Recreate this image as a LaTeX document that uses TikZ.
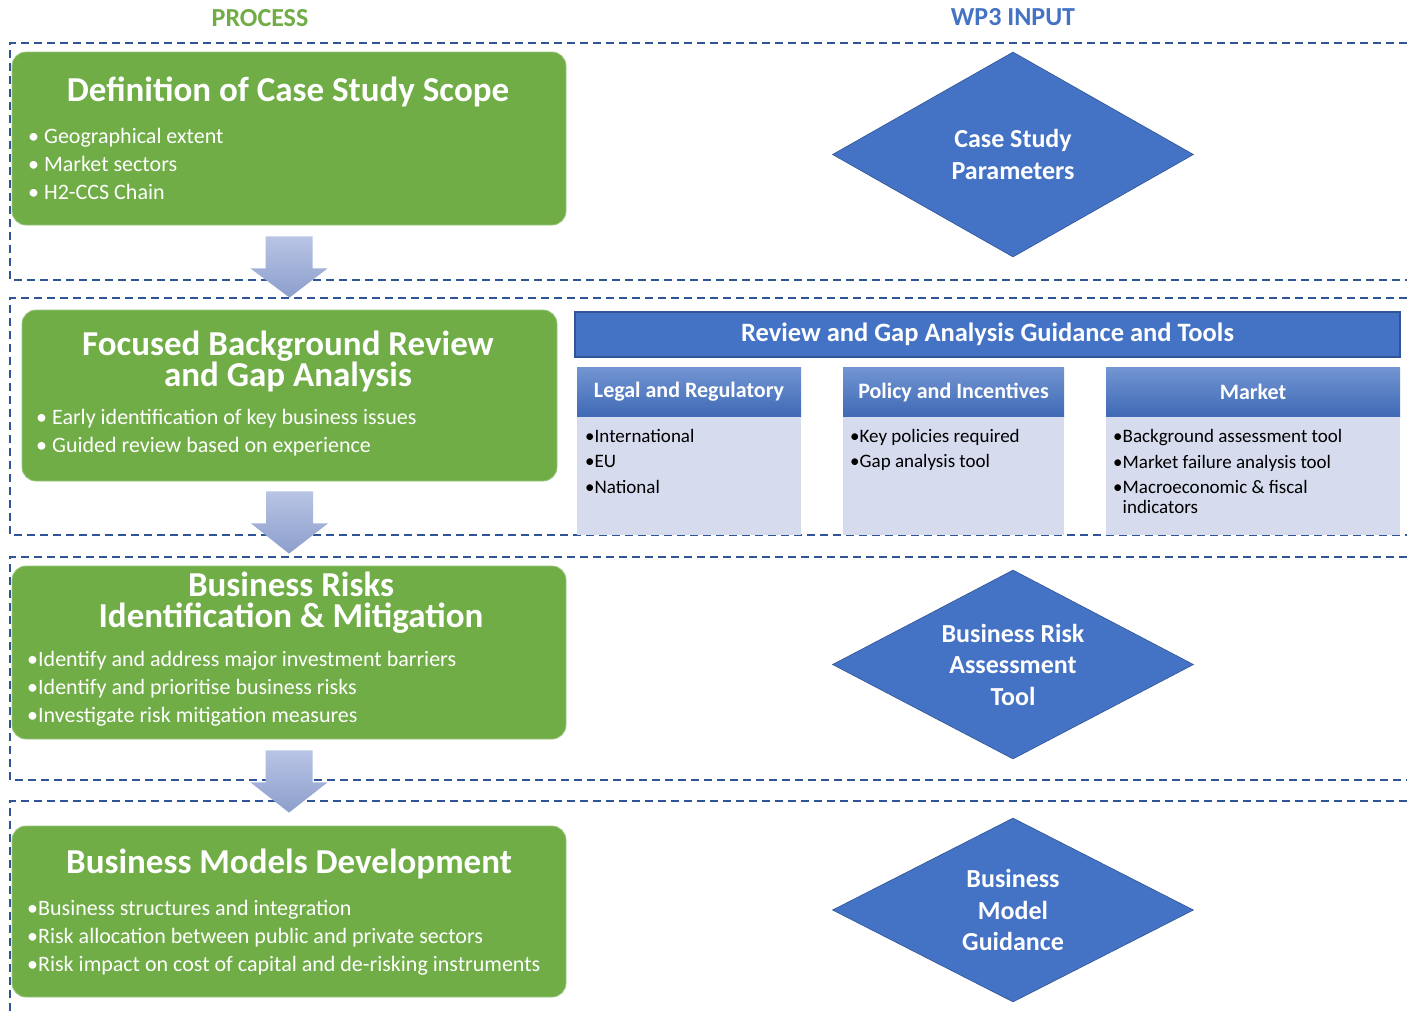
\documentclass[tikz,border=0pt]{standalone}
\usepackage{fontspec}
\setmainfont{Carlito}
\usetikzlibrary{shapes.geometric,calc}

\definecolor{procgreen}{HTML}{70AD47}
\definecolor{inblue}{HTML}{4472C4}
\definecolor{frameblue}{HTML}{2F5597}
\definecolor{cellgrey}{HTML}{D6DBEE}
\definecolor{arrowtop}{HTML}{B8C4E4}
\definecolor{arrowbot}{HTML}{8C9ECC}

\tikzset{
  phase/.style={draw=frameblue, dash pattern=on 8pt off 5pt, line width=1.5pt},
  stagebox/.style={draw=procgreen!70!white, fill=procgreen, rounded corners=14pt, line width=0.8pt, inner sep=0pt},
  stagetitle/.style={text=white, font=\bfseries\fontsize{35}{31}\selectfont, align=center, inner sep=0pt},
  stagelist/.style={text=white, font=\fontsize{22}{28}\selectfont, align=left, anchor=west, inner sep=0pt},
  inputdiamond/.style={diamond, draw=frameblue, fill=inblue, line width=0.6pt, minimum width=361, inner sep=0pt, aspect=1.8,
    text=white, font=\bfseries\fontsize{26}{31.5}\selectfont, align=center},
  gridhead/.style={draw=frameblue, fill=inblue, line width=1.5pt, minimum height=45, inner sep=0pt,
    text=white, font=\bfseries\fontsize{26.5}{30}\selectfont},
  colhead/.style={top color=inblue!75!white, bottom color=inblue!92!black, minimum height=50, inner sep=0pt,
    text=white, font=\bfseries\fontsize{22}{26}\selectfont},
  colbody/.style={fill=cellgrey, minimum height=118, inner sep=0pt},
  collist/.style={font=\fontsize{19}{25.5}\selectfont, align=left, anchor=west, inner sep=0pt},
  flowarrow/.style={top color=arrowtop, bottom color=arrowbot}
}

\begin{document}
\begin{tikzpicture}[x=1pt,y=-1pt]
  \useasboundingbox (0,0) rectangle (1407,1012);
  \clip (0,0) rectangle (1407,1012);

  % column titles
  \node[text=procgreen, font=\bfseries\fontsize{26}{30}\selectfont] (proc) at (260,18) {PROCESS};
  \node[text=inblue, font=\bfseries\fontsize{26}{30}\selectfont] (wp3) at (1013,17) {WP3 INPUT};

  % dashed phase frames
  \draw[phase] (1420,43) -| (10,280) -- (1420,280);
  \draw[phase] (1420,298) -| (10,535) -- (1420,535);
  \draw[phase] (1420,557) -| (10,780) -- (1420,780);
  \draw[phase] (1420,801) -| (10,1020);

  % process boxes
  \node[stagebox, minimum width=554, minimum height=173] (scope) at (289,138.5) {};
  \node[stagetitle] (scopeT) at (288,91.5) {Definition of Case Study Scope};
  \node[stagelist] (scopeL) at (28,163.5) {• Geographical extent\\• Market sectors\\• H2-CCS Chain};

  \node[stagebox, minimum width=535, minimum height=171] (gap) at (289.5,395.5) {};
  \node[stagetitle] (gapT) at (288,361.5) {Focused Background Review\\and Gap Analysis};
  \node[stagelist] (gapL) at (36,432.5) {• Early identification of key business issues\\• Guided review based on experience};

  \node[stagebox, minimum width=554, minimum height=173] (risk) at (289,652.5) {};
  \node[stagetitle] (riskT) at (291,602.5) {Business Risks\\Identification \& Mitigation};
  \node[stagelist] (riskL) at (27,688.5) {•Identify and address major investment barriers\\•Identify and prioritise business risks\\•Investigate risk mitigation measures};

  \node[stagebox, minimum width=554, minimum height=171] (model) at (289,911.5) {};
  \node[stagetitle] (modelT) at (289,863.5) {Business Models Development};
  \node[stagelist] (modelL) at (27,937.5) {•Business structures and integration\\•Risk allocation between public and private sectors\\•Risk impact on cost of capital and de-risking instruments};

  % block arrows between stages
  \shade[flowarrow] ($(scope.south)+(-23.5,11)$) -- ++(47,0) -- ++(0,32) -- ++(15,0) -- ($(gap.north)+(0,-12)$)
    -- ($(scope.south)+(-38.5,43)$) -- ++(15,0) -- cycle;
  \shade[flowarrow] ($(gap.south)+(-23.5,10)$) -- ++(47,0) -- ++(0,32) -- ++(15,0) -- ($(risk.north)+(0,-12)$)
    -- ($(gap.south)+(-38.5,42)$) -- ++(15,0) -- cycle;
  \shade[flowarrow] ($(risk.south)+(-23.5,11)$) -- ++(47,0) -- ++(0,32) -- ++(15,0) -- ($(model.north)+(0,-13)$)
    -- ($(risk.south)+(-38.5,43)$) -- ++(15,0) -- cycle;

  % WP3 inputs
  \node[inputdiamond, minimum height=205] (params) at (1013,154.5) {Case Study\\Parameters};

  \node[gridhead, minimum width=825] (review) at (987.5,334.5) {Review and Gap Analysis Guidance and Tools};
  \node[colhead, minimum width=224] (legal) at (689,392) {Legal and Regulatory};
  \node[colhead, minimum width=221] (policy) at (953.5,392) {Policy and Incentives};
  \node[colhead, minimum width=294] (market) at (1253,392) {Market};
  \node[colbody, minimum width=224, anchor=north] (legalB) at (legal.south) {};
  \node[colbody, minimum width=221, anchor=north] (policyB) at (policy.south) {};
  \node[colbody, minimum width=294, anchor=north] (marketB) at (market.south) {};
  \node[collist] (legalL) at (585,461) {•International\\•EU\\•National};
  \node[collist] (policyL) at (850,450) {•Key policies required\\•Gap analysis tool};
  \node[collist] (marketL) at (1113,471.5) {•Background assessment tool\\•Market failure analysis tool\\•Macroeconomic \& fiscal\\[-5.5pt]\phantom{•}indicators};

  \node[inputdiamond, minimum height=189] (riskT2) at (1013,664.5) {Business Risk\\Assessment\\Tool};
  \node[inputdiamond, minimum height=184] (guide) at (1013,910) {Business\\Model\\Guidance};
\end{tikzpicture}
\end{document}
